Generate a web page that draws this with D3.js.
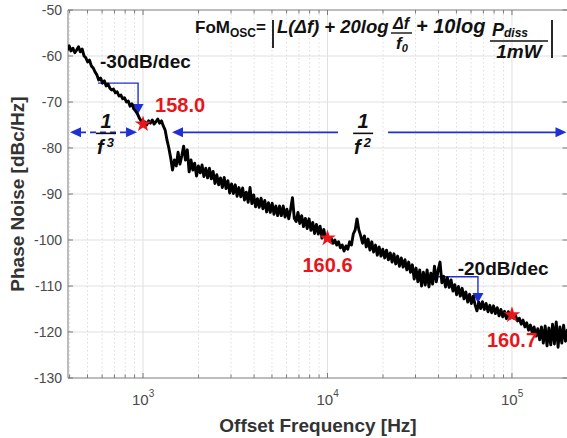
<!DOCTYPE html>
<html><head><meta charset="utf-8">
<script src="https://cdn.jsdelivr.net/npm/d3@7"></script>
<style>
html,body{margin:0;padding:0;background:#fff;}
svg{display:block;font-family:"Liberation Sans",Arial,Helvetica,sans-serif;}
</style></head>
<body><svg id="chart" width="567" height="438"></svg>
<script>
// Measured single-sideband phase noise of the oscillator
const freqHz = [
  389,398,407,417,427,437,447,457,468,479,490,501,513,525,537,550,562,575,589,603,
  617,631,646,661,676,692,708,724,741,759,776,794,813,832,851,871,891,912,933,955,977,
  1000,1023,1047,1072,1096,1122,1148,1175,1202,1230,1259,1288,1318,1349,1380,1413,1445,1479,1514,1549,
  1585,1622,1660,1698,1738,1778,1820,1862,1905,1950,1995,2042,2089,2138,2188,2239,2291,2344,2399,2455,
  2512,2570,2630,2692,2754,2818,2884,2951,3020,3090,3162,3236,3311,3388,3467,3548,3631,3715,3802,3890,
  3981,4074,4169,4266,4365,4467,4571,4677,4786,4898,5012,5129,5248,5370,5495,5623,5754,5888,6026,6166,
  6310,6457,6607,6761,6918,7079,7244,7413,7586,7762,7943,8128,8318,8511,8710,8913,9120,9333,9550,9772,
  10000,10230,10470,10720,10960,11220,11480,11750,12020,12300,12590,12880,13180,13490,13800,14130,14450,14790,15140,15490,
  15850,16220,16600,16980,17380,17780,18200,18620,19050,19500,19950,20420,20890,21380,21880,22390,22910,23440,23990,24550,
  25120,25700,26300,26920,27540,28180,28840,29510,30200,30900,31620,32360,33110,33880,34670,35480,36310,37150,38020,38900,
  39810,40740,41690,42660,43650,44670,45710,46770,47860,48980,50120,51290,52480,53700,54950,56230,57540,58880,60260,61660,
  63100,64570,66070,67610,69180,70790,72440,74130,75860,77620,79430,81280,83180,85110,87100,89130,91200,93330,95500,97720,
  100000,102300,104700,107200,109600,112200,114800,117500,120200,123000,125900,128800,131800,134900,138000,141300,
  144500,147900,151400,154900,158500,162200,166000,169800,173800,177800,182000,186200,190500,195000,199500
];
const phaseNoise = [
  -58.7,-57.8,-58.9,-58.3,-59.3,-58.7,-58.0,-59.1,-58.5,-60.0,-60.4,-61.3,-60.9,-62.2,-62.6,-63.5,-64.1,-65.2,-64.8,-65.9,
  -65.4,-66.5,-66.1,-67.0,-67.4,-67.2,-68.0,-67.8,-68.7,-68.5,-69.3,-69.1,-70.0,-69.8,-70.9,-70.4,-71.5,-72.0,-72.6,-73.5,-74.1,
  -74.8,-74.3,-75.0,-74.1,-74.6,-73.9,-74.8,-74.3,-73.7,-74.6,-74.1,-75.2,-76.1,-78.3,-80.0,-82.2,-84.8,-82.6,-83.9,-80.9,
  -83.5,-81.7,-79.6,-82.6,-80.4,-85.2,-82.6,-84.8,-83.3,-86.1,-83.9,-85.4,-83.7,-86.2,-84.4,-86.5,-84.4,-86.7,-85.1,-87.7,
  -85.8,-88.0,-86.5,-88.6,-86.4,-88.8,-87.1,-89.8,-87.8,-89.9,-88.0,-90.5,-88.6,-90.6,-88.7,-91.3,-89.6,-91.8,-88.6,-92.1,
  -90.2,-92.8,-91.0,-92.9,-90.9,-93.2,-91.4,-93.9,-91.9,-94.0,-92.0,-94.4,-92.6,-94.7,-92.6,-94.7,-92.6,-95.0,-93.3,-95.4,
  -93.3,-90.8,-95.3,-96.0,-94.0,-96.4,-94.7,-97.1,-95.3,-97.5,-95.4,-97.9,-96.2,-98.6,-96.6,-98.7,-97.0,-99.6,-97.7,-99.8,
  -99.6,-100.2,-99.6,-100.7,-100.0,-101.1,-100.4,-101.7,-101.1,-102.4,-101.3,-102.0,-100.4,-101.1,-98.7,-97.8,-95.4,-97.8,-99.1,-100.7,
  -99.1,-101.5,-99.8,-102.2,-100.4,-102.6,-101.1,-103.3,-101.5,-103.5,-102.0,-103.9,-102.2,-104.3,-102.8,-104.8,-103.0,-105.2,-103.5,-105.7,
  -103.9,-105.9,-104.3,-106.5,-104.8,-107.0,-105.4,-108.5,-106.1,-109.1,-106.5,-110.0,-107.0,-109.8,-106.5,-110.2,-107.2,-109.6,-105.7,-109.1,
  -106.5,-104.8,-109.3,-107.9,-110.2,-108.2,-110.3,-108.7,-111.1,-109.7,-111.9,-110.1,-112.2,-110.5,-112.8,-111.3,-113.5,-111.8,-113.8,-112.2,
  -114.1,-115.4,-113.5,-114.9,-113.4,-115.1,-113.8,-115.6,-114.2,-115.8,-114.3,-116.0,-114.7,-116.5,-115.1,-116.7,-115.5,-117.1,-115.6,-117.0,
  -116.3,-117.0,-116.5,-117.6,-117.0,-118.3,-117.4,-118.9,-118.0,-119.6,-118.5,-120.2,-118.9,-120.9,-119.3,-121.7,
  -118.9,-122.4,-118.7,-123.0,-119.1,-122.8,-118.3,-122.6,-117.8,-123.3,-118.9,-122.4,-118.5,-122.0,-119.6
];

// FoM markers
const fomFreq = [1000, 10000, 100000];
const fomNoise = [-74.8, -99.6, -116.3];
const fomText = ["158.0", "160.6", "160.7"];

// Slope guides
const slopeText = ["-30dB/dec", "-20dB/dec"];
const slopeStartHz = [570, 29700];
const slopeEndHz = [940, 65400];
const slopeLevel = [-65.9, -108.0];
const slopeTip = [-72.6, -113.7];

// Noise region arrows (1/f^3 and 1/f^2)
const regionLevel = -76.6;
const f3Span = [402, 928];
const f3Center = 630;
const f2Span = [1436, 200000];
const f2Gap = [11400, 21300];
const f2Center = 15600;

// Axes
const yTicks = [-130, -120, -110, -100, -90, -80, -70, -60, -50];
const xDecades = [1e3, 1e4, 1e5];
const xDecadeExp = ["3", "4", "5"];
const xDomain = [392, 2e5];
const yDomain = [-130, -50];

const plot = {left: 68, top: 10, right: 567.5, bottom: 378};
const svg = d3.select("#chart");

const x = d3.scaleLog().domain(xDomain).range([plot.left, plot.right]);
const y = d3.scaleLinear().domain(yDomain).range([plot.bottom, plot.top]);

svg.append("defs").append("clipPath").attr("id", "clip").append("rect")
  .attr("x", plot.left).attr("y", plot.top)
  .attr("width", plot.right - plot.left).attr("height", plot.bottom - plot.top);

// minor decade ticks
const minorTicks = [];
for (let dec = 100; dec <= 1e5; dec *= 10) {
  for (let k = 2; k <= 9; k++) {
    const v = dec * k;
    if (v > xDomain[0] && v < xDomain[1]) minorTicks.push(v);
  }
}

// grid
const grid = svg.append("g");
grid.selectAll(".gy").data(yTicks.slice(1, -1)).join("line")
  .attr("x1", plot.left).attr("x2", plot.right)
  .attr("y1", d => y(d)).attr("y2", d => y(d))
  .attr("stroke", "#e0e0e0").attr("stroke-width", 1);
grid.selectAll(".gxm").data(minorTicks).join("line")
  .attr("x1", d => x(d)).attr("x2", d => x(d))
  .attr("y1", plot.top).attr("y2", plot.bottom)
  .attr("stroke", "#d4d4d4").attr("stroke-width", 0.8).attr("stroke-dasharray", "1.5,2.5");
grid.selectAll(".gx").data(xDecades).join("line")
  .attr("x1", d => x(d)).attr("x2", d => x(d))
  .attr("y1", plot.top).attr("y2", plot.bottom)
  .attr("stroke", "#e0e0e0").attr("stroke-width", 1);

// axes box and ticks
const axisColor = "#7a7a7a";
svg.append("path").attr("fill", "none").attr("stroke", axisColor).attr("d",
  `M${plot.right},${plot.top}H${plot.left}V${plot.bottom}H${plot.right}V${plot.top}`);
const tk = svg.append("g").attr("stroke", axisColor).attr("stroke-width", 1);
[plot.bottom, plot.top].forEach((yy, i) => {
  const dir = i === 0 ? -1 : 1;
  tk.selectAll(null).data(xDecades).join("line")
    .attr("x1", d => x(d)).attr("x2", d => x(d))
    .attr("y1", yy).attr("y2", yy + dir * 5);
  tk.selectAll(null).data(minorTicks).join("line")
    .attr("x1", d => x(d)).attr("x2", d => x(d))
    .attr("y1", yy).attr("y2", yy + dir * 3.5);
});
[plot.left, plot.right].forEach((xx, i) => {
  const dir = i === 0 ? 1 : -1;
  tk.selectAll(null).data(yTicks).join("line")
    .attr("x1", xx).attr("x2", xx + dir * 5)
    .attr("y1", d => y(d)).attr("y2", d => y(d));
});

// tick labels
const tickColor = "#4a4a4a";
svg.append("g").selectAll("text").data(yTicks).join("text")
  .attr("x", plot.left - 6).attr("y", d => y(d)).attr("dy", "0.36em")
  .attr("text-anchor", "end").attr("font-size", 14).attr("fill", tickColor)
  .text(d => d);
const xl = svg.append("g").selectAll("text").data(xDecades).join("text")
  .attr("x", d => x(d) - 11).attr("y", 405)
  .attr("font-size", 15).attr("fill", tickColor);
xl.append("tspan").text("10");
xl.append("tspan").attr("dy", -8).attr("font-size", 10).text((d, i) => xDecadeExp[i]);

// axis titles
svg.append("text")
  .attr("transform", `translate(24,${(plot.top + plot.bottom) / 2}) rotate(-90)`)
  .attr("text-anchor", "middle").attr("font-size", 19).attr("font-weight", "bold")
  .attr("fill", "#333").text("Phase Noise [dBc/Hz]");
svg.append("text")
  .attr("x", 318).attr("y", 432)
  .attr("text-anchor", "middle").attr("font-size", 19).attr("font-weight", "bold")
  .attr("fill", "#333").text("Offset Frequency [Hz]");

const blue = "#1f2fd3";
const red = "#e8161b";
const body = svg.append("g").attr("clip-path", "url(#clip)");

function arrowHead(g, tx, ty, dir, len, half) {
  let p;
  if (dir === "down") p = [[tx, ty], [tx - half, ty - len], [tx + half, ty - len]];
  else if (dir === "left") p = [[tx, ty], [tx + len, ty - half], [tx + len, ty + half]];
  else p = [[tx, ty], [tx - len, ty - half], [tx - len, ty + half]];
  g.append("path").attr("d", "M" + p.join("L") + "Z").attr("fill", blue);
}

// slope guides
slopeText.forEach((t, i) => {
  const g = body.append("g");
  const x0 = x(slopeStartHz[i]), x1 = x(slopeEndHz[i]);
  const y0 = y(slopeLevel[i]), y1 = y(slopeTip[i]);
  g.append("path").attr("d", `M${x0},${y0}H${x1}V${y1 - 8}`)
    .attr("fill", "none").attr("stroke", blue).attr("stroke-width", 1.4);
  arrowHead(g, x1, y1, "down", 10, 5.5);
});

// region arrows
const ra = body.append("g");
const ry = y(regionLevel);
ra.append("line").attr("x1", x(f3Span[0]) + 10).attr("x2", x(f3Span[1]) - 10)
  .attr("y1", ry).attr("y2", ry).attr("stroke", blue).attr("stroke-width", 1.6)
  .attr("stroke-dasharray", "6,4");
arrowHead(ra, x(f3Span[0]), ry, "left", 11, 5);
arrowHead(ra, x(f3Span[1]), ry, "right", 11, 5);
ra.append("line").attr("x1", x(f2Span[0]) + 10).attr("x2", x(f2Gap[0]))
  .attr("y1", ry).attr("y2", ry).attr("stroke", blue).attr("stroke-width", 1.6);
ra.append("line").attr("x1", x(f2Gap[1])).attr("x2", x(f2Span[1]) - 10)
  .attr("y1", ry).attr("y2", ry).attr("stroke", blue).attr("stroke-width", 1.6);
arrowHead(ra, x(f2Span[0]), ry, "left", 11, 5);
arrowHead(ra, x(f2Span[1]) - 1, ry, "right", 11, 5);

// phase noise trace
body.append("path").datum(d3.zip(freqHz, phaseNoise))
  .attr("fill", "none").attr("stroke", "#000").attr("stroke-width", 2.9)
  .attr("stroke-linejoin", "round").attr("stroke-linecap", "round")
  .attr("d", d3.line().x(d => x(d[0])).y(d => y(d[1])));

// fractions 1/f^n
function fraction(cx, power) {
  const g = svg.append("g").attr("font-weight", "bold").attr("font-style", "italic").attr("fill", "#111");
  g.append("text").attr("x", cx).attr("y", ry - 4).attr("text-anchor", "middle")
    .attr("font-size", 20).text("1");
  g.append("line").attr("x1", cx - 10).attr("x2", cx + 10).attr("y1", ry + 1).attr("y2", ry + 1)
    .attr("stroke", "#111").attr("stroke-width", 1.6);
  const t = g.append("text").attr("x", cx - 9).attr("y", ry + 22).attr("font-size", 20);
  t.append("tspan").text("f");
  t.append("tspan").attr("dx", 3).attr("dy", -7).attr("font-size", 13).text(power);
}
fraction(x(f3Center), "3");
fraction(x(f2Center), "2");

// slope labels
svg.append("text").attr("x", x(slopeStartHz[0]) + 2).attr("y", y(slopeLevel[0]) - 15)
  .attr("font-size", 19).attr("font-weight", "bold").attr("fill", "#111").text(slopeText[0]);
svg.append("text").attr("x", x(slopeStartHz[1]) + 43).attr("y", y(slopeLevel[1]) - 2)
  .attr("font-size", 19).attr("font-weight", "bold").attr("fill", "#111").text(slopeText[1]);

// FoM stars and labels
const star = d3.symbol().type(d3.symbolStar).size(85);
svg.append("g").selectAll("path").data(fomFreq).join("path")
  .attr("transform", (d, i) => `translate(${x(d)},${y(fomNoise[i])})`)
  .attr("d", star).attr("fill", red);
const labelOffset = [[12, -12], [-25, 34], [-25, 32]];
svg.append("g").selectAll("text").data(fomText).join("text")
  .attr("x", (d, i) => x(fomFreq[i]) + labelOffset[i][0])
  .attr("y", (d, i) => y(fomNoise[i]) + labelOffset[i][1])
  .attr("font-size", 20).attr("font-weight", "bold").attr("fill", red).text(d => d);

// FoM definition
const fm = svg.append("g").attr("fill", "#111").attr("font-weight", "bold");
const t1 = fm.append("text").attr("x", 195).attr("y", 33).attr("font-size", 17);
t1.append("tspan").text("FoM");
t1.append("tspan").attr("dy", 4).attr("font-size", 12).text("OSC");
t1.append("tspan").attr("dy", -4).text("=");
fm.append("line").attr("x1", 273).attr("x2", 273).attr("y1", 20).attr("y2", 48)
  .attr("stroke", "#111").attr("stroke-width", 1.8);
const it = fm.append("g").attr("font-style", "italic");
it.append("text").attr("x", 277).attr("y", 33).attr("font-size", 18.5).text("L(\u0394f) + 20log");
it.append("text").attr("x", 401).attr("y", 29).attr("text-anchor", "middle").attr("font-size", 16).text("\u0394f");
fm.append("line").attr("x1", 391).attr("x2", 412).attr("y1", 33).attr("y2", 33)
  .attr("stroke", "#111").attr("stroke-width", 1.4);
const f0 = it.append("text").attr("x", 396).attr("y", 49).attr("font-size", 17);
f0.append("tspan").text("f");
f0.append("tspan").attr("dy", 3).attr("font-size", 11).text("0");
it.append("text").attr("x", 416).attr("y", 33).attr("font-size", 20).text("+ 10log");
const pd = it.append("text").attr("x", 492).attr("y", 36).attr("font-size", 18);
pd.append("tspan").text("P");
pd.append("tspan").attr("dy", 1).attr("font-size", 12).text("diss");
fm.append("line").attr("x1", 490).attr("x2", 548).attr("y1", 41).attr("y2", 41)
  .attr("stroke", "#111").attr("stroke-width", 1.4);
it.append("text").attr("x", 519).attr("y", 58).attr("text-anchor", "middle").attr("font-size", 19).text("1mW");
fm.append("line").attr("x1", 552).attr("x2", 552).attr("y1", 20).attr("y2", 58)
  .attr("stroke", "#111").attr("stroke-width", 1.8);
</script>
</body></html>
